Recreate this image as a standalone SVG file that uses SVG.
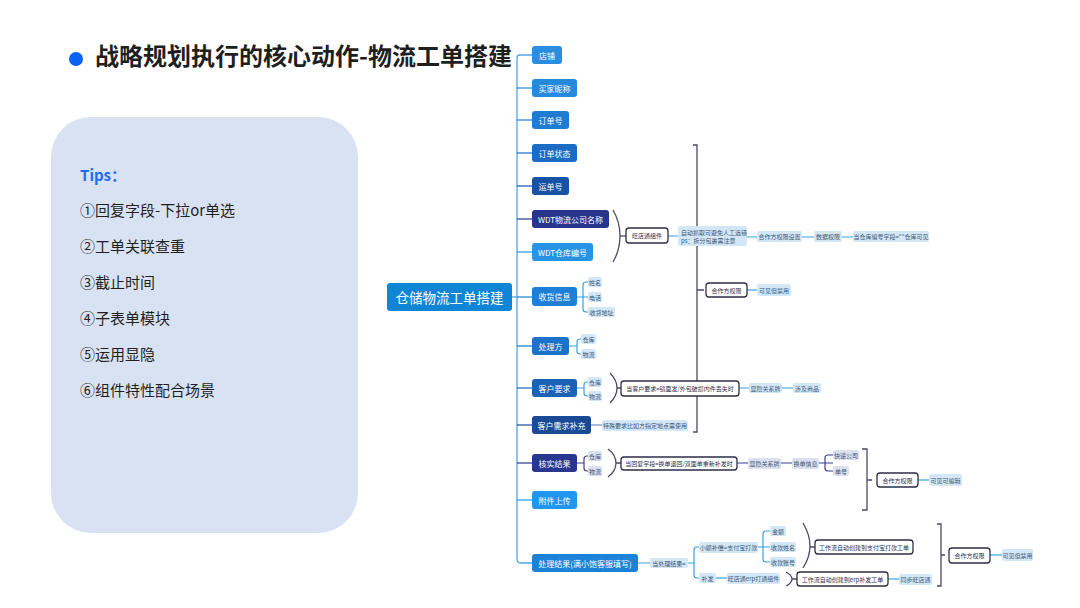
<svg xmlns="http://www.w3.org/2000/svg" width="1080" height="608" viewBox="0 0 1080 608">
<style>
text{font-family:"Noto Sans CJK SC","Noto Sans",sans-serif;}
.tt{font-size:24px;font-weight:bold;fill:#1f1f1f;}
.tip{font-size:15px;fill:#1f1f1f;}
.mt{font-size:8px;fill:#ffffff;text-anchor:middle;dominant-baseline:central;}
.lt{font-size:6px;fill:#3d5873;text-anchor:middle;dominant-baseline:central;}
.wt{font-size:6px;fill:#2e2e48;text-anchor:middle;dominant-baseline:central;}
.ln{fill:#d3e7f7;}
.lp{fill:#dcdff0;}
.wb{fill:#ffffff;stroke:#2e2e48;stroke-width:1.3;}
.c{fill:none;stroke:#3d9fe0;stroke-width:1.2;}
.cn{fill:none;stroke:#3b3f8c;stroke-width:1.2;}
.br{fill:none;stroke:#4a4a66;stroke-width:1.3;}
</style>
<rect width="1080" height="608" fill="#ffffff"/>
<g id="title">
<circle cx="76" cy="59" r="7" fill="#0a62f5"/>
<text class="tt" x="95" y="65">战略规划执行的核心动作-物流工单搭建</text>
</g>
<g id="tips">
<rect x="51" y="117" width="307" height="416" rx="40" fill="#d8e2f3"/>
<text x="80" y="181" font-size="15" font-weight="bold" fill="#1f6bf2">Tips：</text>
<text class="tip" x="80" y="216">①回复字段-下拉or单选</text>
<text class="tip" x="80" y="252">②工单关联查重</text>
<text class="tip" x="80" y="288">③截止时间</text>
<text class="tip" x="80" y="324">④子表单模块</text>
<text class="tip" x="80" y="360">⑤运用显隐</text>
<text class="tip" x="80" y="396">⑥组件特性配合场景</text>
</g>
<g id="connectors">
<path class="c" d="M512,297 H517"/>
<path d="M532,55 H520 Q517,55 517,58 V559 Q517,563 521,563 H532" fill="none" stroke="#4da6ea" stroke-width="1.3"/>
<path d="M517,88 H532" stroke="#2589dc" stroke-width="1.2"/>
<path d="M517,120 H532" stroke="#1f7cd2" stroke-width="1.2"/>
<path d="M517,153 H532" stroke="#1a6cc4" stroke-width="1.2"/>
<path d="M517,186 H532" stroke="#1652a5" stroke-width="1.2"/>
<path d="M517,219 H532" stroke="#27358c" stroke-width="1.2"/>
<path d="M517,252 H532" stroke="#2593e6" stroke-width="1.2"/>
<path d="M517,297 H532" stroke="#1d80d6" stroke-width="1.2"/>
<path d="M517,346 H532" stroke="#1a72c9" stroke-width="1.2"/>
<path d="M517,388 H532" stroke="#1a62b5" stroke-width="1.2"/>
<path d="M517,425 H532" stroke="#1a4a96" stroke-width="1.2"/>
<path d="M517,463 H532" stroke="#283690" stroke-width="1.2"/>
<path d="M517,500 H532" stroke="#2196f0" stroke-width="1.2"/>
<!-- WDT -->
<path class="br" d="M613,210 Q620,222 620,236 Q620,250 613,262"/>
<path class="br" d="M620,236 H626"/>
<path class="c" d="M668,236 H678 M747,237 H757 M802,237 H814 M842,237 H853"/>
<path class="br" d="M693,145 H697 V432 H693 M697,290 H704"/>
<path class="c" d="M747,290 H757"/>
<!-- 收货信息 -->
<path class="c" d="M577,297 H588 M588,282 H586 Q583,282 583,285 V309 Q583,312 586,312 H588"/>
<!-- 处理方 -->
<path class="c" d="M569,346 H577 M581,339 H580 Q577,339 577,342 V351 Q577,354 580,354 H581"/>
<!-- 客户要求 -->
<path class="c" d="M577,388 H584 M588,382 H587 Q584,382 584,385 V393 Q584,396 587,396 H588"/>
<path class="br" d="M610,373 Q617,380 617,388 Q617,396 610,403 M617,388 H621"/>
<path class="c" d="M739,388 H749 M782,388 H793"/>
<!-- 客户需求补充 -->
<path d="M591,425 H602" stroke="#6a8fc0" stroke-width="1.2"/>
<!-- 核实结果 -->
<path class="cn" d="M577,463 H584 M588,456 H587 Q584,456 584,459 V468 Q584,471 587,471 H588"/>
<path class="br" d="M608,449 Q616,455 616,463 Q616,471 608,477 M616,463 H621"/>
<path class="cn" d="M737,463 H748 M781,463 H792 M819,463 H833 M833,455 H828 Q825,455 825,458 V468 Q825,471 828,471 H833"/>
<path class="br" d="M862,449 H867 V510 H862 M867,480 H872"/>
<path class="c" d="M918,480 H929"/>
<!-- 处理结果 -->
<path class="c" d="M638,563 H650 M688,563 H694 M699,547 H697 Q694,547 694,550 V575 Q694,578 697,578 H699"/>
<path class="c" d="M758,547 H770 M770,531 H766 Q763,531 763,534 V559 Q763,562 766,562 H770"/>
<path class="br" d="M803,523 Q810,535 810,546 Q810,557 803,568 M810,547 H815"/>
<path class="c" d="M716,578 H727"/>
<path class="br" d="M786,572 Q792,575 792,579 Q792,583 786,586 M792,579 H797"/>
<path class="c" d="M888,579 H899"/>
<path class="br" d="M937,524 H941 V586 H937 M941,555 H945"/>
<path class="c" d="M990,555 H1002"/>
</g>
<g id="root">
<rect x="387" y="283" width="125" height="28" rx="3" fill="#0f86d5"/>
<text x="449.5" y="297" font-size="13.5" fill="#ffffff" text-anchor="middle" dominant-baseline="central">仓储物流工单搭建</text>
</g>
<g id="n-dianpu"><rect x="532" y="46" width="30" height="18" rx="3" fill="#2a8de0"/><text class="mt" x="547" y="55">店铺</text></g>
<g id="n-maijia"><rect x="532" y="79" width="45" height="18" rx="3" fill="#2589dc"/><text class="mt" x="554.5" y="88">买家昵称</text></g>
<g id="n-dingdanhao"><rect x="532" y="111" width="37" height="18" rx="3" fill="#1f7cd2"/><text class="mt" x="550.5" y="120">订单号</text></g>
<g id="n-zhuangtai"><rect x="532" y="144" width="45" height="18" rx="3" fill="#1a6cc4"/><text class="mt" x="554.5" y="153">订单状态</text></g>
<g id="n-yundan"><rect x="532" y="177" width="37" height="18" rx="3" fill="#1652a5"/><text class="mt" x="550.5" y="186">运单号</text></g>
<g id="n-wdtwl"><rect x="532" y="210" width="77" height="18" rx="3" fill="#27358c"/><text class="mt" x="570.5" y="219">WDT物流公司名称</text></g>
<g id="n-wdtck"><rect x="532" y="243" width="61" height="18" rx="3" fill="#2593e6"/><text class="mt" x="562.5" y="252">WDT仓库编号</text></g>
<g id="n-shouhuo"><rect x="532" y="287" width="45" height="19" rx="3" fill="#1d80d6"/><text class="mt" x="554.5" y="296.5">收货信息</text></g>
<g id="n-chulifang"><rect x="532" y="337" width="37" height="18" rx="3" fill="#1a72c9"/><text class="mt" x="550.5" y="346">处理方</text></g>
<g id="n-yaoqiu"><rect x="532" y="379" width="45" height="18" rx="3" fill="#1a62b5"/><text class="mt" x="554.5" y="388">客户要求</text></g>
<g id="n-buchong"><rect x="532" y="416" width="59" height="18" rx="3" fill="#1a4a96"/><text class="mt" x="561.5" y="425">客户需求补充</text></g>
<g id="n-hesh"><rect x="532" y="454" width="45" height="18" rx="3" fill="#283690"/><text class="mt" x="554.5" y="463">核实结果</text></g>
<g id="n-fujian"><rect x="532" y="491" width="45" height="18" rx="3" fill="#2196f0"/><text class="mt" x="554.5" y="500">附件上传</text></g>
<g id="n-chulijg"><rect x="532" y="554" width="106" height="18" rx="3" fill="#1c82d8"/><text class="mt" x="585" y="563" font-size="7.8">处理结果(满小饱客服填写)</text></g>
<g id="n-wdtzj"><rect class="wb" x="626" y="228" width="42" height="15" rx="3"/><text class="wt" x="647" y="235.5">旺店通组件</text></g>
<g id="n-zidong"><rect class="ln" x="678" y="226" width="69" height="20" rx="2"/><text class="lt" x="681" y="232.5" style="text-anchor:start">自动抓取可避免人工选错</text><text class="lt" x="681" y="240" style="text-anchor:start">ps：拆分包裹需注意</text></g>
<g id="n-hzsz"><rect class="ln" x="757" y="231" width="45" height="11" rx="2"/><text class="lt" x="779.5" y="236.5">合作方权限设置</text></g>
<g id="n-sjqx"><rect class="ln" x="814" y="231" width="28" height="11" rx="2"/><text class="lt" x="828" y="236.5">数据权限</text></g>
<g id="n-dangck"><rect class="ln" x="853" y="231" width="76" height="11" rx="2"/><text class="lt" x="891" y="236.5" font-size="5.7">当仓库编号字段=""仓库可见</text></g>
<g id="n-hzqx1"><rect class="wb" x="706" y="283" width="41" height="14" rx="3"/><text class="wt" x="726.5" y="290">合作方权限</text></g>
<g id="n-kjjy1"><rect class="ln" x="757" y="284" width="34" height="12" rx="2"/><text class="lt" x="774" y="290">可见但禁用</text></g>
<g id="n-xingming"><rect class="ln" x="588" y="277" width="14" height="10" rx="2"/><text class="lt" x="595" y="282" font-size="5.5">姓名</text></g>
<g id="n-dianhua"><rect class="ln" x="588" y="292" width="14" height="10" rx="2"/><text class="lt" x="595" y="297" font-size="5.5">电话</text></g>
<g id="n-dizhi"><rect class="ln" x="588" y="307" width="27" height="10" rx="2"/><text class="lt" x="601.5" y="312" font-size="5.5">收货地址</text></g>
<g id="n-clf-ck"><rect class="ln" x="581" y="334" width="15" height="10" rx="2"/><text class="lt" x="588.5" y="339" font-size="5.5">仓库</text></g>
<g id="n-clf-wl"><rect class="ln" x="581" y="349" width="15" height="10" rx="2"/><text class="lt" x="588.5" y="354" font-size="5.5">物流</text></g>
<g id="n-yq-ck"><rect class="ln" x="588" y="377" width="14" height="10" rx="2"/><text class="lt" x="595" y="382" font-size="5.5">仓库</text></g>
<g id="n-yq-wl"><rect class="ln" x="588" y="391" width="14" height="10" rx="2"/><text class="lt" x="595" y="396" font-size="5.5">物流</text></g>
<g id="n-dangyq"><rect class="wb" x="621" y="381" width="118" height="15" rx="3"/><text class="wt" x="680" y="388.5">当客户要求=镜面发/外包破损内件丢失时</text></g>
<g id="n-xy1"><rect class="ln" x="749" y="383" width="33" height="10" rx="2"/><text class="lt" x="765.5" y="388">显隐关系牌</text></g>
<g id="n-sjsp"><rect class="ln" x="793" y="383" width="28" height="10" rx="2"/><text class="lt" x="807" y="388">涉及商品</text></g>
<g id="n-teshu"><rect class="ln" x="602" y="420" width="86" height="11" rx="2"/><text class="lt" x="645" y="425.5" font-size="5.8">特殊要求比如方指定地点需使用</text></g>
<g id="n-hs-ck"><rect class="lp" x="588" y="451" width="14" height="10" rx="2"/><text class="lt" x="595" y="456" font-size="5.5">仓库</text></g>
<g id="n-hs-wl"><rect class="lp" x="588" y="466" width="14" height="10" rx="2"/><text class="lt" x="595" y="471" font-size="5.5">物流</text></g>
<g id="n-danghf"><rect class="wb" x="621" y="457" width="116" height="13" rx="3"/><text class="wt" x="679" y="463.5">当回复字段=换单退回/双面单重新补发时</text></g>
<g id="n-xy2"><rect class="lp" x="748" y="458" width="33" height="11" rx="2"/><text class="lt" x="764.5" y="463.5">显隐关系牌</text></g>
<g id="n-hdxx"><rect class="lp" x="792" y="458" width="27" height="11" rx="2"/><text class="lt" x="805.5" y="463.5">换单信息</text></g>
<g id="n-kdgs"><rect class="lp" x="833" y="450" width="26" height="10" rx="2"/><text class="lt" x="846" y="455" font-size="5.5">快递公司</text></g>
<g id="n-danhao"><rect class="lp" x="833" y="466" width="16" height="10" rx="2"/><text class="lt" x="841" y="471" font-size="5.5">单号</text></g>
<g id="n-hzqx2"><rect class="wb" x="877" y="473" width="41" height="14" rx="3"/><text class="wt" x="897.5" y="480">合作方权限</text></g>
<g id="n-kjkbj"><rect class="ln" x="929" y="474" width="33" height="12" rx="2"/><text class="lt" x="945.5" y="480">可见可编辑</text></g>
<g id="n-dangcl"><rect class="ln" x="650" y="558" width="38" height="10" rx="2"/><text class="lt" x="669" y="563">当处理结果=</text></g>
<g id="n-xebc"><rect class="ln" x="699" y="542" width="59" height="11" rx="2"/><text class="lt" x="728.5" y="547.5">小额补偿=支付宝打款</text></g>
<g id="n-bufa"><rect class="ln" x="699" y="573" width="17" height="10" rx="2"/><text class="lt" x="707.5" y="578">补发</text></g>
<g id="n-jine"><rect class="ln" x="770" y="526" width="16" height="10" rx="2"/><text class="lt" x="778" y="531" font-size="5.5">金额</text></g>
<g id="n-skxm"><rect class="ln" x="770" y="542" width="26" height="10" rx="2"/><text class="lt" x="783" y="547" font-size="5.5">收款姓名</text></g>
<g id="n-skzh"><rect class="ln" x="770" y="557" width="26" height="10" rx="2"/><text class="lt" x="783" y="562" font-size="5.5">收款账号</text></g>
<g id="n-gzlzfb"><rect class="wb" x="815" y="540" width="98" height="14" rx="3"/><text class="wt" x="864" y="547">工作流自动创建到支付宝打款工单</text></g>
<g id="n-wdterp"><rect class="ln" x="727" y="573" width="53" height="11" rx="2"/><text class="lt" x="753.5" y="578.5">旺店通erp打通组件</text></g>
<g id="n-gzlerp"><rect class="wb" x="797" y="572" width="91" height="14" rx="3"/><text class="wt" x="842.5" y="579">工作流自动创建到erp补发工单</text></g>
<g id="n-tbwdt"><rect class="ln" x="899" y="574" width="33" height="11" rx="2"/><text class="lt" x="915.5" y="579.5">同步旺店通</text></g>
<g id="n-hzqx3"><rect class="wb" x="949" y="548" width="41" height="15" rx="3"/><text class="wt" x="969.5" y="555.5">合作方权限</text></g>
<g id="n-kjjy3"><rect class="ln" x="1002" y="549" width="31" height="12" rx="2"/><text class="lt" x="1017.5" y="555">可见但禁用</text></g>
</svg>
